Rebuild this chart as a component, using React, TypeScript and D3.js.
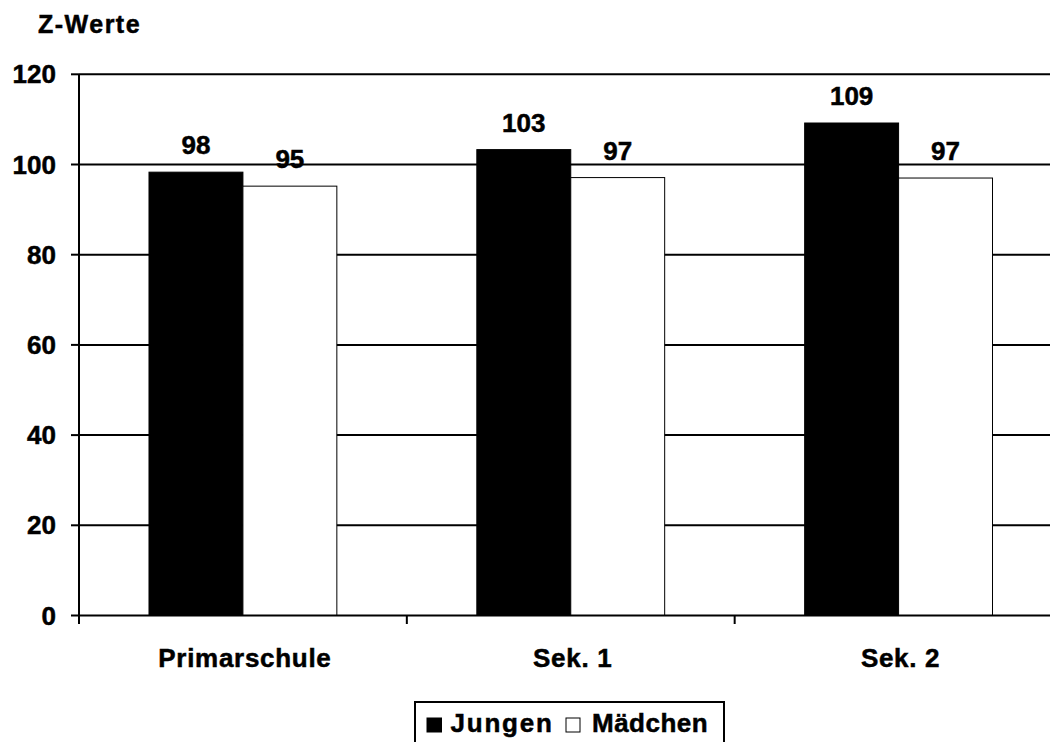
import React from "react";
import * as d3 from "d3";

const categories = ["Primarschule", "Sek. 1", "Sek. 2"];
const seriesNames = ["Jungen", "Mädchen"];
const jungen = [98.3, 103.3, 109.2];
const maedchen = [95.2, 97.1, 97.0];
const yTicks = [0, 20, 40, 60, 80, 100, 120];
const yTitle = "Z-Werte";

const W = 1050;
const H = 742;
const FONT = "'Liberation Sans', Arial, sans-serif";

export default function App() {
  const left = 79;
  const right = 1062.5;
  const top = 74.3;
  const bottom = 615.5;

  const x = d3.scaleBand<string>().domain(categories).range([left, right]).paddingInner(0).paddingOuter(0);
  const y = d3.scaleLinear().domain([0, 120]).range([bottom, top]);
  const bw = x.bandwidth();
  const sub = d3.scaleBand<string>().domain(seriesNames).range([bw * 0.2135, bw * 0.7865]);
  const fmt = d3.format(".0f");
  const series = [
    { name: seriesNames[0], values: jungen, fill: "#000" },
    { name: seriesNames[1], values: maedchen, fill: "#fff" },
  ];

  return (
    <svg width={W} height={H} style={{ position: "absolute", left: 0, top: 0, background: "#fff" }} fontFamily={FONT} fontWeight="bold">
      <rect x={0} y={0} width={W} height={H} fill="#fff" />
      <g stroke="#000" strokeWidth={0.5}>
        <text x={38} y={33} fontSize={25} letterSpacing={1.5}>{yTitle}</text>
      </g>
      {yTicks.map((t) => (
        <g key={t}>
          {t > 0 && <line x1={left} x2={right} y1={y(t)} y2={y(t)} stroke="#000" strokeWidth={2} />}
          <line x1={71} x2={left} y1={y(t)} y2={y(t)} stroke="#000" strokeWidth={2} />
          <text x={56} y={y(t) + 9} fontSize={26} textAnchor="end" stroke="#000" strokeWidth={0.5}>{t}</text>
        </g>
      ))}
      {categories.map((c, i) => (
        <g key={c} transform={`translate(${x(c)},0)`}>
          {series.map((s) => (
            <g key={s.name}>
              <rect
                x={sub(s.name)!}
                y={y(s.values[i])}
                width={sub.bandwidth()}
                height={y(0) - y(s.values[i])}
                fill={s.fill}
                stroke="#000"
                strokeWidth={1}
              />
              <text x={sub(s.name)! + sub.bandwidth() / 2} y={y(s.values[i]) - 18} fontSize={26} textAnchor="middle" stroke="#000" strokeWidth={0.5}>
                {fmt(s.values[i])}
              </text>
            </g>
          ))}
          <text x={bw / 2 + 2} y={667} fontSize={26} textAnchor="middle" letterSpacing={0.7} stroke="#000" strokeWidth={0.5}>{c}</text>
        </g>
      ))}
      {[...categories.map((c) => x(c)!), right].map((v, i) => (
        <line key={i} x1={v} x2={v} y1={bottom} y2={624} stroke="#000" strokeWidth={2} />
      ))}
      <line x1={left} x2={left} y1={top} y2={bottom} stroke="#000" strokeWidth={2} />
      <line x1={left} x2={right} y1={bottom} y2={bottom} stroke="#000" strokeWidth={2} />
      <g>
        <rect x={415} y={702} width={309} height={60} fill="#fff" stroke="#000" strokeWidth={2} />
        <rect x={426.5} y={717.5} width={15.5} height={15} fill="#000" />
        <text x={450.5} y={732} fontSize={26} letterSpacing={1.8} stroke="#000" strokeWidth={0.5}>{seriesNames[0]}</text>
        <rect x={566} y={718} width={14} height={14} fill="#fff" stroke="#000" strokeWidth={1} />
        <text x={592} y={732} fontSize={26} letterSpacing={0.5} stroke="#000" strokeWidth={0.5}>{seriesNames[1]}</text>
      </g>
    </svg>
  );
}
